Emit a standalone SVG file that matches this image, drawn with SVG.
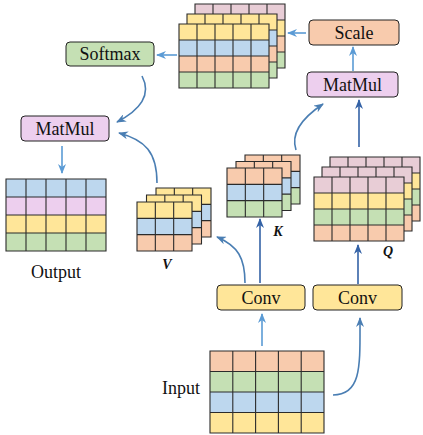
<svg xmlns="http://www.w3.org/2000/svg" xmlns:xlink="http://www.w3.org/1999/xlink" width="423" height="435" viewBox="0 0 423 435">
<style>
.y{fill:#FFE699}.b{fill:#BDD7EE}.o{fill:#F8CBAD}.g{fill:#C5E0B4}.p{fill:#E8CDD6}.m{fill:#EDCFEE}
.gl{fill:none;stroke:#2b2b2b;stroke-width:1.1}
.box{stroke:#222;stroke-width:1}
.t{font-family:"Liberation Serif","Times New Roman",serif;font-size:18px;fill:#111;text-anchor:middle}
.lb{font-family:"Liberation Serif","Times New Roman",serif;font-size:14px;font-weight:bold;font-style:italic;fill:#111;text-anchor:middle}
.a1{fill:none;stroke:#5B9BD5;stroke-width:1.6;marker-end:url(#h1)}
.a2{fill:none;stroke:#4A7EB3;stroke-width:1.6;marker-end:url(#h2)}
.a3{fill:none;stroke:#3462A6;stroke-width:1.6;marker-end:url(#h3)}
</style>
<defs>
<marker id="h1" viewBox="0 0 10 8" refX="9" refY="4" markerWidth="10" markerHeight="8" markerUnits="userSpaceOnUse" orient="auto"><path d="M0,0L10,4L0,8L3,4z" fill="#5B9BD5"/></marker>
<marker id="h2" viewBox="0 0 10 8" refX="9" refY="4" markerWidth="10" markerHeight="8" markerUnits="userSpaceOnUse" orient="auto"><path d="M0,0L10,4L0,8L3,4z" fill="#4A7EB3"/></marker>
<marker id="h3" viewBox="0 0 10 8" refX="9" refY="4" markerWidth="10" markerHeight="8" markerUnits="userSpaceOnUse" orient="auto"><path d="M0,0L10,4L0,8L3,4z" fill="#3462A6"/></marker>
<path id="G54" class="gl" d="M0,0H90V64H0zM0,16H90M0,32H90M0,48H90M18,0V64M36,0V64M54,0V64M72,0V64"/>
<path id="G33" class="gl" d="M0,0H55V49H0zM0,16.33H55M0,32.67H55M18.33,0V49M36.67,0V49"/>
<path id="GO" class="gl" d="M0,0H100V72H0zM0,18H100M0,36H100M0,54H100M20,0V72M40,0V72M60,0V72M80,0V72"/>
<path id="GI" class="gl" d="M0,0H114V82H0zM0,20.5H114M0,41H114M0,61.5H114M22.8,0V82M45.6,0V82M68.4,0V82M91.2,0V82"/>
</defs>

<g id="attention">
<g transform="translate(195,4)"><rect class="p" width="90" height="16"/><rect class="y" y="16" width="90" height="16"/><rect class="o" y="32" width="90" height="16"/><rect class="g" y="48" width="90" height="16"/><use xlink:href="#G54"/></g>
<g transform="translate(187,14)"><rect class="y" width="90" height="16"/><rect class="b" y="16" width="90" height="16"/><rect class="o" y="32" width="90" height="16"/><rect class="g" y="48" width="90" height="16"/><use xlink:href="#G54"/></g>
<g transform="translate(179,24)"><rect class="y" width="90" height="16"/><rect class="b" y="16" width="90" height="16"/><rect class="o" y="32" width="90" height="16"/><rect class="g" y="48" width="90" height="16"/><use xlink:href="#G54"/></g>
</g>

<g id="scale"><rect class="box o" x="309" y="20" width="90" height="25" rx="4"/><text class="t" x="354" y="39">Scale</text></g>
<g id="matmul-right"><rect class="box m" x="307" y="72" width="91" height="25" rx="4"/><text class="t" x="352.5" y="91">MatMul</text></g>
<g id="softmax"><rect class="box g" x="66" y="42" width="88" height="24" rx="4"/><text class="t" x="110" y="60">Softmax</text></g>
<g id="matmul-left"><rect class="box m" x="21" y="116" width="88" height="25" rx="4"/><text class="t" x="65" y="135">MatMul</text></g>

<g id="output">
<g transform="translate(6,179)"><rect class="b" width="100" height="18"/><rect class="m" y="18" width="100" height="18"/><rect class="y" y="36" width="100" height="18"/><rect class="g" y="54" width="100" height="18"/><use xlink:href="#GO"/></g>
<text class="t" x="56" y="278">Output</text>
</g>

<g id="v">
<g transform="translate(156,188)"><rect class="y" width="55" height="16.33"/><rect class="b" y="16.33" width="55" height="16.34"/><rect class="o" y="32.67" width="55" height="16.33"/><use xlink:href="#G33"/></g>
<g transform="translate(146.5,195)"><rect class="y" width="55" height="16.33"/><rect class="b" y="16.33" width="55" height="16.34"/><rect class="o" y="32.67" width="55" height="16.33"/><use xlink:href="#G33"/></g>
<g transform="translate(137,202)"><rect class="y" width="55" height="16.33"/><rect class="b" y="16.33" width="55" height="16.34"/><rect class="o" y="32.67" width="55" height="16.33"/><use xlink:href="#G33"/></g>
<text class="lb" x="167" y="269">V</text>
</g>

<g id="k">
<g transform="translate(245,155)"><rect class="o" width="55" height="16.33"/><rect class="b" y="16.33" width="55" height="16.34"/><rect class="g" y="32.67" width="55" height="16.33"/><use xlink:href="#G33"/></g>
<g transform="translate(236,161.5)"><rect class="o" width="55" height="16.33"/><rect class="b" y="16.33" width="55" height="16.34"/><rect class="g" y="32.67" width="55" height="16.33"/><use xlink:href="#G33"/></g>
<g transform="translate(227,168)"><rect class="o" width="55" height="16.33"/><rect class="b" y="16.33" width="55" height="16.34"/><rect class="g" y="32.67" width="55" height="16.33"/><use xlink:href="#G33"/></g>
<text class="lb" x="278" y="236">K</text>
</g>

<g id="q">
<g transform="translate(330,157)"><rect class="p" width="90" height="16"/><rect class="y" y="16" width="90" height="16"/><rect class="g" y="32" width="90" height="16"/><rect class="o" y="48" width="90" height="16"/><use xlink:href="#G54"/></g>
<g transform="translate(322,167)"><rect class="p" width="90" height="16"/><rect class="y" y="16" width="90" height="16"/><rect class="g" y="32" width="90" height="16"/><rect class="o" y="48" width="90" height="16"/><use xlink:href="#G54"/></g>
<g transform="translate(314,177)"><rect class="p" width="90" height="16"/><rect class="y" y="16" width="90" height="16"/><rect class="g" y="32" width="90" height="16"/><rect class="o" y="48" width="90" height="16"/><use xlink:href="#G54"/></g>
<text class="lb" x="388" y="256">Q</text>
</g>

<g id="conv-left"><rect class="box y" x="217" y="285" width="88" height="25" rx="4"/><text class="t" x="261" y="304">Conv</text></g>
<g id="conv-right"><rect class="box y" x="313" y="285" width="89" height="25" rx="4"/><text class="t" x="357.5" y="304">Conv</text></g>

<g id="input">
<g transform="translate(210,351)"><rect class="o" width="114" height="20.5"/><rect class="g" y="20.5" width="114" height="20.5"/><rect class="b" y="41" width="114" height="20.5"/><rect class="y" y="61.5" width="114" height="20.5"/><use xlink:href="#GI"/></g>
<text class="t" x="181" y="394">Input</text>
</g>

<g id="connectors">
<path class="a1" d="M306,33H288"/>
<path class="a1" d="M177,55H157"/>
<path class="a1" d="M353,71V47"/>
<path class="a1" d="M62,146V173"/>
<path class="a1" d="M262,346V314"/>
<path class="a2" d="M142,76C152,95 140,110 117,122"/>
<path class="a2" d="M157,183C157,152 145,140 119,133"/>
<path class="a2" d="M245,283C245,258 238,246 217,237"/>
<path class="a2" d="M333,395C362,395 360,365 360,318"/>
<path class="a2" d="M296,150C290,132 305,116 323,104"/>
<path class="a3" d="M260,283V219"/>
<path class="a3" d="M358,284V245"/>
<path class="a3" d="M359,147V100"/>
</g>
</svg>
